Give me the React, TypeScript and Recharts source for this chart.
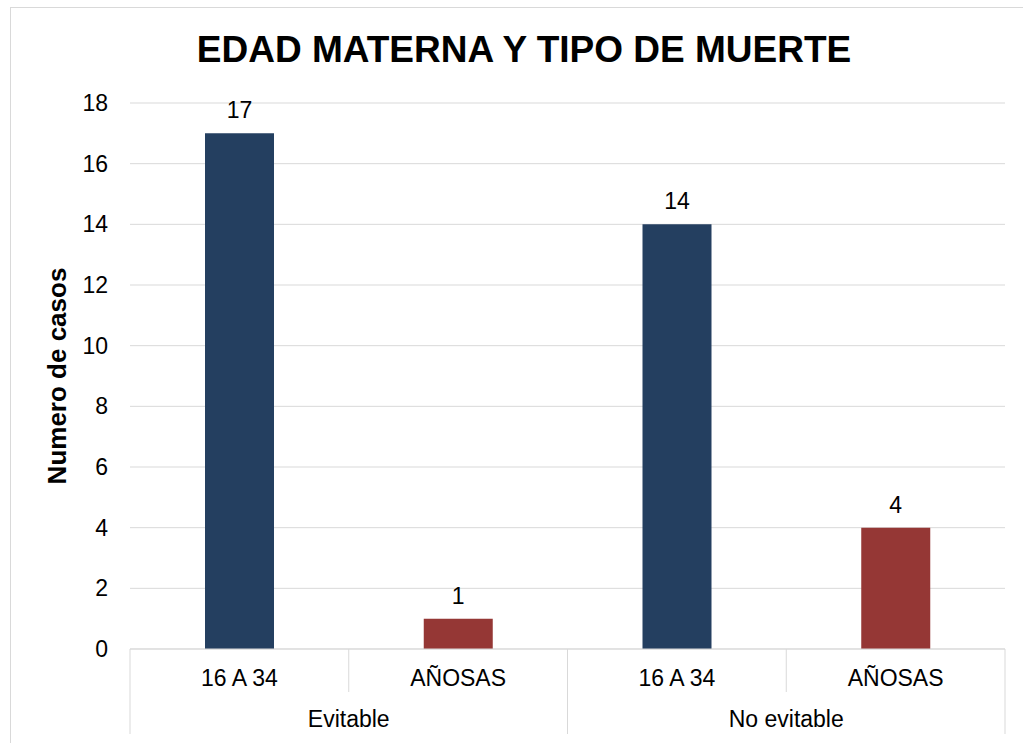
import { Bar, BarChart, CartesianGrid, Cell, LabelList, XAxis, YAxis } from "recharts";

const categories = ["16 A 34", "AÑOSAS", "16 A 34", "AÑOSAS"];
const groups = ["Evitable", "No evitable"];
const casos = [17, 1, 14, 4];
const barColors = ["#243F60", "#953735", "#243F60", "#953735"];
const yTicks = [0, 2, 4, 6, 8, 10, 12, 14, 16, 18];

const data = categories.map((c, i) => ({ idx: i, categoria: c, casos: casos[i] }));

const WIDTH = 1012;
const HEIGHT = 735;
const MARGIN = { top: 95, right: 18, bottom: 0, left: 0 };
const Y_WIDTH = 119;
const BAND = (WIDTH - MARGIN.right - Y_WIDTH) / categories.length;
const GRID = "#d9d9d9";
const FONT = "'Liberation Sans', Arial, sans-serif";
const TEXT_SIZE = 23;

function CategoryTick(props: any) {
  const { x, y, payload } = props;
  const i = payload.value as number;
  const left = x - BAND / 2;
  const right = x + BAND / 2;
  const outer = i % 2 === 0;
  return (
    <g>
      <line x1={left} x2={left} y1={y} y2={y + (outer ? 85 : 43)} stroke={GRID} />
      {i === categories.length - 1 && (
        <line x1={right} x2={right} y1={y} y2={y + 85} stroke={GRID} />
      )}
      <text x={x} y={y + 37} textAnchor="middle" fontSize={TEXT_SIZE} fill="#000">
        {categories[i]}
      </text>
      {outer && (
        <text x={right} y={y + 78} textAnchor="middle" fontSize={TEXT_SIZE} fill="#000">
          {groups[i / 2]}
        </text>
      )}
    </g>
  );
}

function YTitle(props: any) {
  const { viewBox } = props;
  const cx = 55;
  const cy = viewBox.y + viewBox.height / 2;
  return (
    <text
      x={cx}
      y={cy}
      textAnchor="middle"
      fontSize={26}
      fontWeight="bold"
      fill="#000"
      transform={`rotate(-90, ${cx}, ${cy})`}
    >
      Numero de casos
    </text>
  );
}

export default function App() {
  return (
    <>
      <style>{"body{margin:0;overflow:hidden}"}</style>
      <div
        style={{
          position: "absolute",
          left: 10,
          top: 7,
          width: 1013,
          height: 736,
          borderLeft: `1px solid ${GRID}`,
          borderTop: `1px solid ${GRID}`,
          boxSizing: "border-box",
          fontFamily: FONT,
          background: "#fff",
        }}
      >
        <div
          style={{
            position: "absolute",
            left: 0,
            top: 23,
            width: 1026,
            textAlign: "center",
            fontSize: 37,
            lineHeight: "37px",
            fontWeight: "bold",
            color: "#000",
          }}
        >
          EDAD MATERNA Y TIPO DE MUERTE
        </div>
        <BarChart width={WIDTH} height={HEIGHT} data={data} margin={MARGIN}>
          <CartesianGrid stroke={GRID} vertical={false} />
          <XAxis
            dataKey="idx"
            height={HEIGHT - MARGIN.top - 546}
            stroke={GRID}
            tickLine={false}
            tickSize={0}
            tickMargin={0}
            interval={0}
            tick={<CategoryTick />}
          />
          <YAxis
            width={Y_WIDTH}
            domain={[0, 18]}
            ticks={yTicks}
            axisLine={false}
            tickLine={false}
            tickSize={0}
            tickMargin={22}
            tick={{ fontSize: TEXT_SIZE, fill: "#000" }}
            label={<YTitle />}
          />
          <Bar dataKey="casos" barSize={69} isAnimationActive={false}>
            {data.map((d, i) => (
              <Cell key={d.idx} fill={barColors[i]} />
            ))}
            <LabelList dataKey="casos" position="top" offset={15} fontSize={TEXT_SIZE} fill="#000" />
          </Bar>
        </BarChart>
      </div>
    </>
  );
}
